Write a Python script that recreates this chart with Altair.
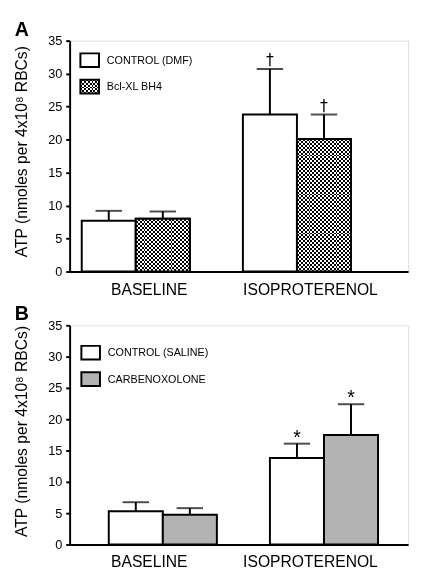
import altair as alt
import pandas as pd

groups = ["BASELINE", "ISOPROTERENOL"]

# Panel A
a_series = ["CONTROL (DMF)", "Bcl-XL BH4"]
a_control_mean = [7.7, 23.8]
a_control_sem = [1.5, 6.9]
a_bcl_mean = [8.0, 20.1]
a_bcl_sem = [1.1, 3.7]
a_control_sig = ["", "†"]
a_bcl_sig = ["", "†"]

# Panel B
b_series = ["CONTROL (SALINE)", "CARBENOXOLONE"]
b_control_mean = [5.3, 13.8]
b_control_sem = [1.45, 2.3]
b_carb_mean = [4.75, 17.5]
b_carb_sem = [1.05, 4.9]
b_control_sig = ["", "*"]
b_carb_sig = ["", "*"]

y_ticks = [0, 5, 10, 15, 20, 25, 30, 35]
y_title = "ATP (nmoles per 4x10⁸ RBCs)"
FONT = "Liberation Sans"
YMAX = 35
W = 346
BAR_W = W * 114 / 357 / 2
CELL = 4  # checker period in px


def stripes(n, horizontal, on, off):
    stops = []
    for i in range(n):
        a, m, b = i / n, (i + 0.5) / n, (i + 1) / n
        stops += [alt.GradientStop(color=on, offset=a), alt.GradientStop(color=on, offset=m),
                  alt.GradientStop(color=off, offset=m), alt.GradientStop(color=off, offset=b)]
    if horizontal:
        return alt.Gradient(gradient="linear", stops=stops, x1=0, x2=0, y1=0, y2=1)
    return alt.Gradient(gradient="linear", stops=stops, x1=0, x2=1, y1=0, y2=0)


def build_df(series, means_list, sems_list, sig_list):
    rows = []
    for s, means, sems, sigs in zip(series, means_list, sems_list, sig_list):
        for g, m, e, t in zip(groups, means, sems, sigs):
            rows.append({"group": g, "series": s, "mean": m, "upper": m + e, "sig": t})
    return pd.DataFrame(rows)


def legend_layers(series, fills, lx, ly, checker):
    layers = []
    dummy = alt.Chart(pd.DataFrame({"t": series}))
    for i, (s, f) in enumerate(zip(series, fills)):
        y0 = ly + i * 27
        enc = dict(x=alt.value(lx), x2=alt.value(lx + 19), y=alt.value(y0), y2=alt.value(y0 + 14))
        one = dummy.transform_filter(alt.datum.t == s)
        if checker and i == 1:
            layers.append(one.mark_rect(fill=stripes(5, False, "black", "white")).encode(**enc))
            layers.append(one.mark_rect(fill=stripes(4, True, "white", "rgba(255,255,255,0)"),
                                        blend="difference").encode(**enc))
            layers.append(one.mark_rect(fill="white", fillOpacity=0, stroke="black",
                                        strokeWidth=2).encode(**enc))
        else:
            layers.append(one.mark_rect(fill=f, stroke="black", strokeWidth=2).encode(**enc))
        layers.append(one.mark_text(font=FONT, fontSize=11, align="left", baseline="middle",
                                    color="black").encode(
            x=alt.value(lx + 27), y=alt.value(y0 + 7.5), text="t:N"))
    return layers


def panel(df, series, fills, letter, lx, ly, sig_font, sig_size, sig_dy, height, checker):
    base = alt.Chart(df).encode(
        x=alt.X("group:N", sort=groups,
                scale=alt.Scale(paddingInner=0.329, paddingOuter=0.2147, align=0.37),
                axis=alt.Axis(title=None, labelAngle=0, ticks=False, domainWidth=2,
                              domainColor="black", labelFontSize=16, labelPadding=10,
                              labelColor="black", labelFont=FONT)),
        xOffset=alt.XOffset("series:N", sort=series,
                            scale=alt.Scale(paddingInner=0, paddingOuter=0)),
    )
    yscale = alt.Scale(domain=[0, YMAX], nice=False)
    yaxis = alt.Axis(title=y_title, values=y_ticks, grid=False, domainWidth=2,
                     domainColor="black", tickWidth=2, tickColor="black", tickSize=4,
                     labelFontSize=13, labelFont=FONT, labelColor="black", labelPadding=4,
                     labelOverlap=False,
                     titleFontSize=16, titleFont=FONT, titleFontWeight="normal",
                     titleColor="black", titleX=-41, titleY=round(height * 0.48),
                     titleBaseline="bottom", titleAnchor="middle")
    y = alt.Y("mean:Q", scale=yscale, axis=yaxis)
    yu = alt.Y("upper:Q", scale=yscale, axis=yaxis)
    bars = base.mark_bar(stroke="black", strokeWidth=2, width=BAR_W).encode(
        y=y,
        fill=alt.Fill("series:N", sort=series,
                      scale=alt.Scale(domain=series, range=fills), legend=None),
    )
    layers = [bars]
    if checker:
        treat = series[1]
        tb = base.transform_filter(alt.datum.series == treat)
        layers.append(tb.mark_bar(width=BAR_W, fill=stripes(round(BAR_W / CELL), False,
                                                             "black", "white")).encode(y=y))
        for g, m in zip(groups, a_bcl_mean):
            n = max(1, round(m * height / YMAX / CELL))
            layers.append(
                tb.transform_filter(alt.datum.group == g).mark_bar(
                    width=BAR_W, blend="difference",
                    fill=stripes(n, True, "white", "rgba(255,255,255,0)")).encode(y=y))
        layers.append(tb.mark_bar(width=BAR_W, fill="white", fillOpacity=0, stroke="black",
                                  strokeWidth=2).encode(y=y))
    err = base.mark_rule(color="black", strokeWidth=2).encode(y=y, y2="upper:Q")
    cap = base.mark_tick(color="black", thickness=2, size=27).encode(y=yu)
    sig = base.mark_text(font=sig_font, fontSize=sig_size, baseline="bottom", dy=sig_dy,
                         color="black").encode(y=yu, text="sig:N")
    lab = alt.Chart(pd.DataFrame({"t": [letter]})).mark_text(
        font=FONT, fontSize=20, fontWeight="bold", align="left", baseline="alphabetic",
        color="black").encode(x=alt.value(-56), y=alt.value(-5), text="t:N")
    layers += [err, cap, sig, lab]
    layers += legend_layers(series, fills, lx, ly, checker)
    return alt.layer(*layers).properties(width=W, height=height)


df_a = build_df(a_series, [a_control_mean, a_bcl_mean], [a_control_sem, a_bcl_sem],
                [a_control_sig, a_bcl_sig])
df_b = build_df(b_series, [b_control_mean, b_carb_mean], [b_control_sem, b_carb_sem],
                [b_control_sig, b_carb_sig])

pa = panel(df_a, a_series, ["white", "#555555"], "A", 11, 13, "DejaVu Sans", 16, -1, 236, True)
pb = panel(df_b, b_series, ["white", "#b3b3b3"], "B", 12, 21, FONT, 20, 4, 224, False)

chart = alt.vconcat(pa, pb, spacing=55, bounds="flush").resolve_scale(
    fill="independent").configure_view(stroke=None).configure(background="white")

chart.save("out.html", embed_options={"renderer": "svg", "actions": False})
